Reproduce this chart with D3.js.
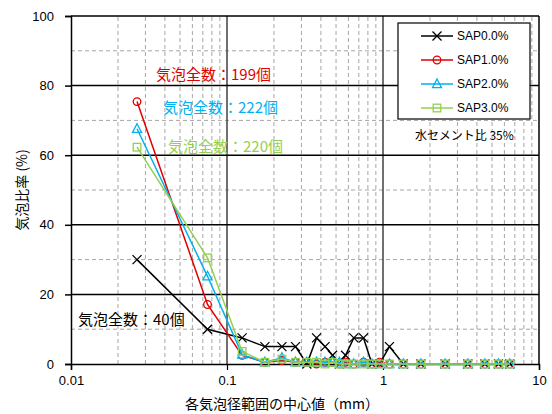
<!DOCTYPE html>
<html>
<head>
<meta charset="utf-8">
<script src="https://cdn.jsdelivr.net/npm/d3@7/dist/d3.min.js"></script>
<style>
  html, body { margin: 0; padding: 0; background: #fff; }
  svg { display: block; }
</style>
</head>
<body>
<script>
// Bubble size class centres (mm)
const sizes = [0.0265, 0.075, 0.125, 0.175, 0.225, 0.275, 0.325, 0.375, 0.425, 0.475, 0.525, 0.575,
               0.65, 0.75, 0.85, 0.95, 1.1, 1.35, 1.75, 2.5, 3.5, 4.5, 5.5, 6.5];

// Share of bubbles in each class (%)
const sap00 = [30, 10, 7.5, 5, 5, 5, 0, 7.5, 5, 2.5, 0, 2.5, 7.5, 7.5, 0, 0, 5, 0, 0, 0, 0, 0, 0, 0];
const sap10 = [75.4, 17.1, 2.5, 0.5, 1.0, 0.5, 0.5, 0, 0.5, 0.5, 0, 0.5, 0, 0.5, 0, 0.5, 0, 0, 0, 0, 0, 0, 0, 0];
const sap20 = [67.6, 25.2, 2.7, 0.5, 1.8, 0.5, 0.5, 0.5, 0.5, 0.5, 0.5, 0, 0, 0.5, 0, 0, 0, 0, 0, 0, 0, 0, 0, 0];
const sap30 = [62.3, 30.5, 3.6, 0.5, 1.4, 0.5, 0.5, 0.5, 0, 0.5, 0, 0, 0, 0, 0, 0, 0, 0, 0, 0, 0, 0, 0, 0];

const seriesNames = ["SAP0.0%", "SAP1.0%", "SAP2.0%", "SAP3.0%"];
const seriesColors = ["#000000", "#e00000", "#00b0f0", "#92d050"];
const seriesMarkers = ["cross", "circle", "triangle", "square"];
const totalLabels = ["気泡全数：40個", "気泡全数：199個", "気泡全数：222個", "気泡全数：220個"];

const xTicks = [0.01, 0.1, 1, 10];
const yTicks = [0, 20, 40, 60, 80, 100];

const W = 552, H = 414;
const margin = { left: 71, right: 13, top: 16, bottom: 50 };
const x = d3.scaleLog().domain([0.01, 10]).range([margin.left, W - margin.right]);
const y = d3.scaleLinear().domain([0, 100]).range([H - margin.bottom, margin.top]);

const svg = d3.select("body").append("svg").attr("width", W).attr("height", H);
const latin = "'Liberation Sans', Arial, sans-serif";
const cjk = "'Noto Sans CJK JP', 'Noto Sans', sans-serif";

// Minor grid: dashed
const minorX = [];
[0.01, 0.1, 1].forEach(d => { for (let k = 2; k <= 9; k++) minorX.push(d * k); });
svg.append("g").selectAll("line").data(minorX).join("line")
  .attr("x1", d => x(d)).attr("x2", d => x(d))
  .attr("y1", y(0)).attr("y2", y(100))
  .attr("stroke", "#a6a6a6").attr("stroke-width", 1).attr("stroke-dasharray", "4,3");
const minorY = [10, 30, 50, 70, 90];
svg.append("g").selectAll("line").data(minorY).join("line")
  .attr("x1", x(0.01)).attr("x2", x(10))
  .attr("y1", d => y(d)).attr("y2", d => y(d))
  .attr("stroke", "#a6a6a6").attr("stroke-width", 1).attr("stroke-dasharray", "4,3");

// Major grid
svg.append("g").selectAll("line").data([0.1, 1]).join("line")
  .attr("x1", d => x(d)).attr("x2", d => x(d))
  .attr("y1", y(0)).attr("y2", y(100))
  .attr("stroke", "#404040").attr("stroke-width", 1.5);
svg.append("g").selectAll("line").data([20, 40, 60, 80]).join("line")
  .attr("x1", x(0.01)).attr("x2", x(10))
  .attr("y1", d => y(d)).attr("y2", d => y(d))
  .attr("stroke", "#000").attr("stroke-width", 1.5);

// Axes
const xAxis = d3.axisBottom(x).tickValues(xTicks).tickFormat(d => String(d)).tickSize(6).tickPadding(6);
const gx = svg.append("g").attr("transform", `translate(0,${y(0)})`).call(xAxis);
gx.select(".domain").attr("stroke", "#000").attr("stroke-width", 1.5);
gx.selectAll(".tick line").attr("stroke", "#000").attr("stroke-width", 1.2);
gx.selectAll("text").attr("font-family", latin).attr("font-size", 13).attr("fill", "#000");

const yAxis = d3.axisLeft(y).tickValues(yTicks).tickSize(6).tickPadding(11);
const gy = svg.append("g").attr("transform", `translate(${x(0.01)},0)`).call(yAxis);
gy.select(".domain").attr("stroke", "#000").attr("stroke-width", 1.5);
gy.selectAll(".tick line").attr("stroke", "#000").attr("stroke-width", 1.5);
gy.selectAll("text").attr("font-family", latin).attr("font-size", 13).attr("fill", "#000");

// Top and right frame
svg.append("line").attr("x1", x(0.01)).attr("x2", x(10)).attr("y1", y(100)).attr("y2", y(100))
  .attr("stroke", "#000").attr("stroke-width", 1.5);
svg.append("line").attr("x1", x(10)).attr("x2", x(10)).attr("y1", y(0)).attr("y2", y(100))
  .attr("stroke", "#000").attr("stroke-width", 1.5);

// Marker drawing
function drawMarker(g, type, color, cx, cy) {
  if (type === "cross") {
    const s = 4.5;
    g.append("path").attr("d", `M${cx - s},${cy - s}L${cx + s},${cy + s}M${cx - s},${cy + s}L${cx + s},${cy - s}`)
      .attr("stroke", color).attr("stroke-width", 1.3).attr("fill", "none");
  } else if (type === "circle") {
    g.append("circle").attr("cx", cx).attr("cy", cy).attr("r", 3.8)
      .attr("stroke", color).attr("stroke-width", 1.3).attr("fill", "none");
  } else if (type === "triangle") {
    const s = 4.5;
    g.append("path").attr("d", `M${cx},${cy - s - 0.5}L${cx + s},${cy + s * 0.8}L${cx - s},${cy + s * 0.8}Z`)
      .attr("stroke", color).attr("stroke-width", 1.3).attr("fill", "none");
  } else {
    const s = 3.8;
    g.append("rect").attr("x", cx - s).attr("y", cy - s).attr("width", 2 * s).attr("height", 2 * s)
      .attr("stroke", color).attr("stroke-width", 1.3).attr("fill", "none");
  }
}

const allSeries = [sap00, sap10, sap20, sap30];
const line = d3.line().x((d, i) => x(sizes[i])).y(d => y(d));
allSeries.forEach((vals, si) => {
  const g = svg.append("g");
  g.append("path").datum(vals).attr("d", line)
    .attr("fill", "none").attr("stroke", seriesColors[si]).attr("stroke-width", 1.5);
  vals.forEach((v, i) => drawMarker(g, seriesMarkers[si], seriesColors[si], x(sizes[i]), y(v)));
});

// Legend
const lg = svg.append("g");
lg.append("rect").attr("x", 398).attr("y", 23).attr("width", 132).attr("height", 96)
  .attr("fill", "#fff").attr("stroke", "#000").attr("stroke-width", 1.2);
seriesNames.forEach((name, i) => {
  const ly = 36 + i * 24;
  lg.append("line").attr("x1", 421).attr("x2", 453).attr("y1", ly).attr("y2", ly)
    .attr("stroke", seriesColors[i]).attr("stroke-width", 1.5);
  drawMarker(lg, seriesMarkers[i], seriesColors[i], 437, ly);
  lg.append("text").attr("x", 457).attr("y", ly).attr("dy", "0.36em")
    .attr("font-family", latin).attr("font-size", 12).attr("fill", "#000").text(name);
});

// Bubble totals
const totalPos = [[78, 320], [156, 75], [163, 108], [168, 147]];
totalLabels.forEach((t, i) => {
  svg.append("text").attr("x", totalPos[i][0]).attr("y", totalPos[i][1]).attr("dy", "0.36em")
    .attr("font-family", cjk).attr("font-size", 15).attr("fill", seriesColors[i]).text(t);
});

// Water-cement ratio note
svg.append("text").attr("x", 415).attr("y", 136).attr("dy", "0.36em")
  .attr("font-family", cjk).attr("font-size", 12).attr("fill", "#000").text("水セメント比 35%");

// Axis titles
svg.append("text").attr("x", 282).attr("y", 404).attr("dy", "0.36em").attr("text-anchor", "middle")
  .attr("font-family", cjk).attr("font-size", 14).attr("fill", "#000").text("各気泡径範囲の中心値（mm）");
svg.append("text").attr("transform", "translate(22,190) rotate(-90)").attr("dy", "0.36em")
  .attr("text-anchor", "middle").attr("font-family", cjk).attr("font-size", 14).attr("fill", "#000")
  .text("気泡比率 (%)");
</script>
</body>
</html>
